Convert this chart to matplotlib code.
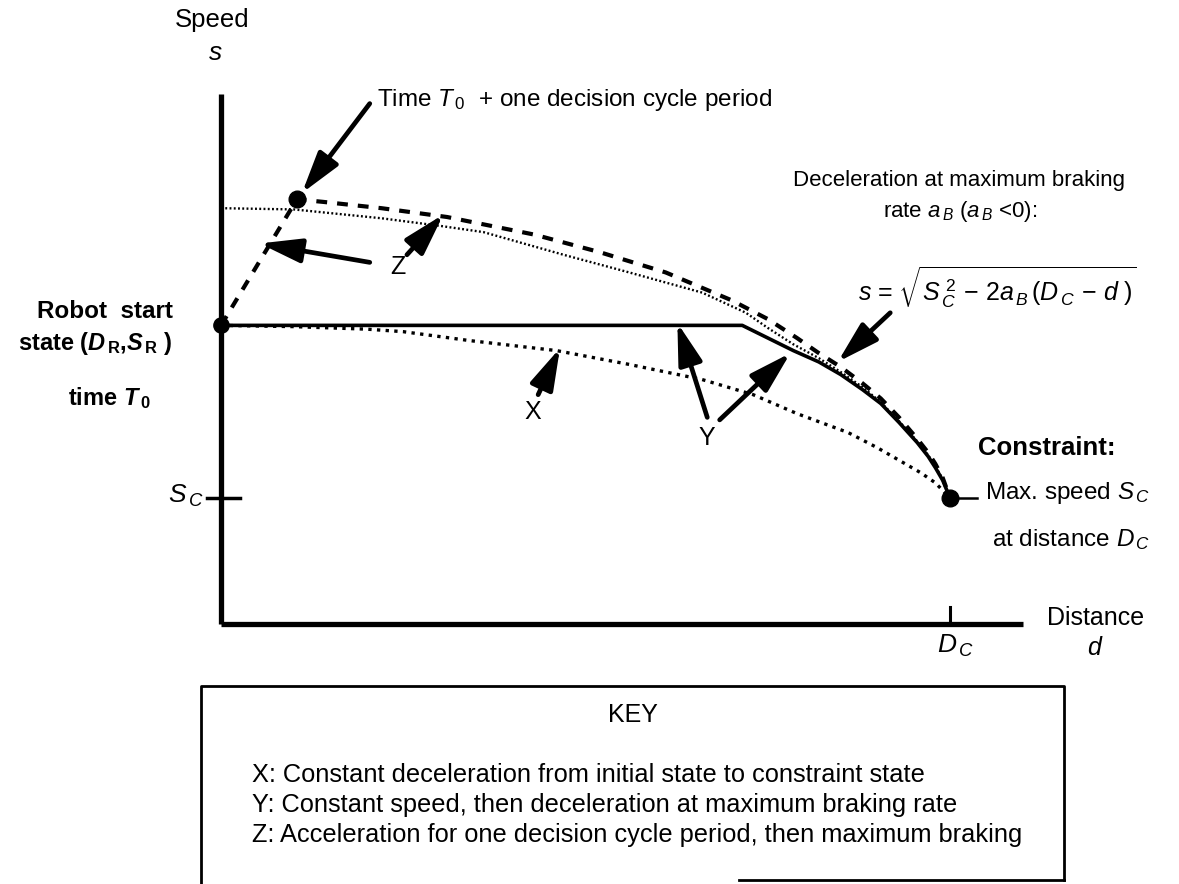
import matplotlib
matplotlib.use("Agg")
import matplotlib.pyplot as plt

plt.rcParams['font.family'] = ['Liberation Sans', 'DejaVu Sans']
plt.rcParams['mathtext.fontset'] = 'custom'
plt.rcParams['mathtext.rm'] = 'Liberation Sans'
plt.rcParams['mathtext.it'] = 'Liberation Sans:italic'
plt.rcParams['mathtext.bf'] = 'Liberation Sans:bold'
plt.rcParams['mathtext.bfit'] = 'Liberation Sans:bold:italic'

# values (distance d: D_C = 100, speed s: S_C = 1)
D_C = 100.0
S_C = 1.0
S_R = 2.37
D_MAX = 110.0   # end of distance axis
S_MAX = 4.21    # top of speed axis

# X: constant deceleration (dotted)
x_d = [0, 10, 20, 25, 34, 46, 56, 66, 73, 79, 86, 90, 93, 96, 98, 100]
x_s = [2.37, 2.36, 2.34, 2.32, 2.25, 2.17, 2.06, 1.94, 1.82, 1.67, 1.52, 1.40, 1.30, 1.20, 1.12, 1.00]

# Y: constant speed, then max braking (solid)
y_d = [0, 71.5, 75, 78.5, 82, 85, 88, 90.5, 93, 95.5, 97, 98, 99, 100]
y_s = [2.37, 2.37, 2.27, 2.17, 2.08, 1.98, 1.86, 1.75, 1.60, 1.44, 1.33, 1.24, 1.14, 1.00]

# maximum braking curve through the constraint (fine dotted)
brake_d = [0, 10, 22, 30, 36, 47, 56, 66, 72, 75, 78.5, 82, 85, 88, 90.5, 93, 95.5, 97, 98, 99, 100]
brake_s = [3.30, 3.29, 3.22, 3.16, 3.11, 2.93, 2.79, 2.63, 2.47, 2.35, 2.22, 2.11, 2.00, 1.88,
           1.76, 1.61, 1.45, 1.34, 1.25, 1.15, 1.00]

# Z: accelerate one cycle, then max braking (dashed)
z_d = [0, 10.4, 14, 22, 31, 43, 52, 61, 70, 75, 79, 82, 85, 88, 90.5, 93, 95.5, 97, 98, 99, 100]
z_s = [2.37, 3.37, 3.35, 3.30, 3.23, 3.09, 2.95, 2.79, 2.57, 2.42, 2.27, 2.15, 2.04, 1.91,
       1.79, 1.64, 1.47, 1.36, 1.27, 1.16, 1.00]

key_lines = [
    "X: Constant deceleration from initial state to constraint state",
    "Y: Constant speed, then deceleration at maximum braking rate",
    "Z: Acceleration for one decision cycle period, then maximum braking",
]

fig = plt.figure(figsize=(11.79, 8.84), dpi=100)
ax = fig.add_axes([0, 0, 1, 1])
ax.set_xlim(-30.32, 131.41)
ax.set_ylim(-2.063, 4.952)
ax.axis('off')

# axes of the sketch
ax.plot([0, 0], [0, S_MAX], color='black', lw=3.8, solid_capstyle='butt')
ax.plot([0, D_MAX], [0, 0], color='black', lw=3.8, solid_capstyle='butt')
ax.plot([-1.9, 2.6], [S_C, S_C], color='black', lw=2.5)
ax.plot([D_C, D_C], [0, 0.135], color='black', lw=2.2)

# curves
ax.plot(brake_d, brake_s, color='black', lw=1.7, linestyle=(0, (0.8, 1.0)))
ax.plot(x_d, x_s, color='black', lw=2.4, linestyle=(0, (1.0, 1.6)))
ax.plot(y_d, y_s, color='black', lw=2.6)
ax.plot(z_d, z_s, color='black', lw=3.0, linestyle=(0, (2.6, 2.4)))

# state points
ax.plot([0], [S_R], 'o', color='black', ms=11)
ax.plot([z_d[1]], [z_s[1]], 'o', color='black', ms=12)
ax.plot([D_C], [S_C], 'o', color='black', ms=12)
ax.plot([D_C, 103.7], [S_C, S_C], color='black', lw=1.8)

arrow = dict(arrowstyle='-|>,head_length=1.1,head_width=0.32', lw=3.4, color='black',
             mutation_scale=23, shrinkA=0, shrinkB=0)

def pointer(tail, head):
    ax.annotate('', xy=head, xytext=tail, arrowprops=arrow)

pointer((20.4, 4.13), (11.1, 3.42))
pointer((20.4, 2.87), (5.3, 3.02))
pointer((25.5, 2.93), (30.5, 3.25))
pointer((43.5, 1.82), (46.5, 2.19))
pointer((66.7, 1.64), (62.6, 2.39))
pointer((68.4, 1.62), (78.1, 2.15))
pointer((91.8, 2.47), (84.6, 2.08))

# labels
fs = 18
ax.text(-1.2, 4.79, "Speed", fontsize=18.5, ha='center', va='center')
ax.text(-0.8, 4.53, "$s$", fontsize=19, ha='center', va='center')
ax.text(21.4, 4.16, r"Time $T_{\,0}$  + one decision cycle period", fontsize=17.5,
        ha='left', va='center')

ax.text(24.3, 2.83, "Z", fontsize=fs, ha='center', va='center')
ax.text(42.8, 1.68, "X", fontsize=fs, ha='center', va='center')
ax.text(66.7, 1.48, "Y", fontsize=fs, ha='center', va='center')

ax.text(-25.2, 2.48, "Robot  start", fontsize=17.5, fontweight='bold', ha='left', va='center')
ax.text(-27.8, 2.23, r"state ($\mathbfit{D}_{\,\mathbf{R}}$,$\mathbfit{S}_{\,\mathbf{R}}$ )",
        fontsize=17, fontweight='bold', ha='left', va='center')
ax.text(-21.0, 1.79, r"time $\mathbfit{T}_{\,\mathbf{0}}$", fontsize=17, fontweight='bold',
        ha='left', va='center')
ax.text(-2.4, 1.02, r"$S_{\,C}$", fontsize=19, ha='right', va='center')

ax.text(78.5, 3.52, "Deceleration at maximum braking", fontsize=16, ha='left', va='center')
ax.text(90.8, 3.27, r"rate $a_{\,B}$ ($a_{\,B}$ <0):", fontsize=16, ha='left', va='center')
ax.text(87.4, 2.67, r"$s$ = $\sqrt{S_{\,C}^{\;2}\,-\,2a_{\,B}\,(D_{\,C}\,-\,d\;)}$", fontsize=18,
        ha='left', va='center')

ax.text(103.8, 1.40, "Constraint:", fontsize=18.5, fontweight='bold', ha='left', va='center')
ax.text(104.8, 1.04, r"Max. speed $S_{\,C}$", fontsize=17.5, ha='left', va='center')
ax.text(105.8, 0.67, r"at distance $D_{\,C}$", fontsize=17.5, ha='left', va='center')

ax.text(113.3, 0.05, "Distance", fontsize=18, ha='left', va='center')
ax.text(119.9, -0.19, "$d$", fontsize=18, ha='center', va='center')
ax.text(100.8, -0.17, r"$D_{\,C}$", fontsize=19, ha='center', va='center')

# key box
box_l, box_r, box_t, box_b = -2.7, 115.6, -0.49, -2.03
ax.plot([box_l, box_l, box_r, box_r], [-2.063, box_t, box_t, box_b], color='black', lw=2)
ax.plot([71.0, box_r], [box_b, box_b], color='black', lw=2)
ax.text((box_l + box_r) / 2, -0.72, "KEY", fontsize=fs, ha='center', va='center')
for i, line in enumerate(key_lines):
    ax.text(4.25, -1.20 - 0.238 * i, line, fontsize=18.3, ha='left', va='center')

fig.savefig("out.png", dpi=100)
